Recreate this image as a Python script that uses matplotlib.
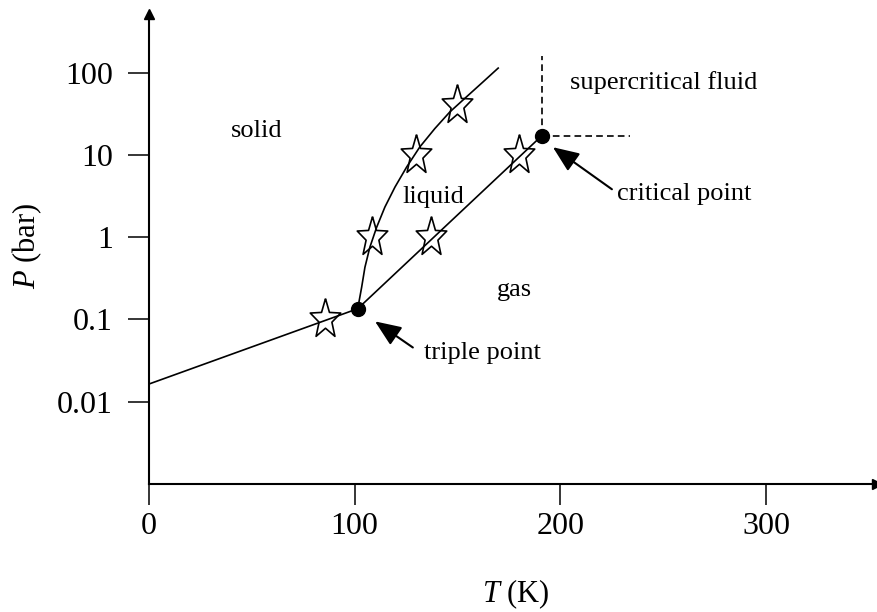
import matplotlib.pyplot as plt
import numpy as np

plt.rcParams['font.family'] = ['Liberation Serif', 'DejaVu Serif']
plt.rcParams['mathtext.fontset'] = 'custom'
plt.rcParams['mathtext.rm'] = 'Liberation Serif'
plt.rcParams['mathtext.it'] = 'Liberation Serif:italic'

# phase boundaries (T in K, P in bar)
subl_T = [0, 101.5]
subl_P = [0.0164, 0.135]
melt_T = [101.5, 103.4, 105.0, 107.4, 110.7, 114.7, 119.6, 125.3, 131.7,
          139.0, 146.3, 154.4, 162.5, 169.8]
melt_P = [0.135, 0.246, 0.431, 0.755, 1.32, 2.32, 4.06, 7.13, 12.5,
          20.9, 33.3, 50.8, 77.4, 113.5]
vap_T = [101.5, 190.9]
vap_P = [0.135, 17]

# measured points (stars)
star_T = [85.5, 108.5, 130, 150, 137, 180]
star_P = [0.1, 1, 10, 40, 1, 10]

triple_T, triple_P = 101.5, 0.135
crit_T, crit_P = 190.9, 17

xticks = [0, 100, 200, 300]
yticks = [0.01, 0.1, 1, 10, 100]
ylabels = ['0.01', '0.1', '1', '10', '100']

fig = plt.figure(figsize=(8.77, 6.12), dpi=100)
ax = fig.add_axes([0.1699, 0.2092, 0.8301, 0.7684])
ax.set_yscale('log')
ax.set_xlim(0, 354)
ax.set_ylim(1e-3, 520)

line = dict(color='k', lw=1.2, solid_joinstyle='round')
ax.plot(subl_T, subl_P, **line)
ax.plot(melt_T, melt_P, **line)
ax.plot(vap_T, vap_P, **line)

# dashed lines out of the critical point
ax.plot([crit_T, crit_T], [crit_P, 157], color='k', lw=1.2, ls=(0, (4, 2.5)))
ax.plot([crit_T, 234], [crit_P, crit_P], color='k', lw=1.2, ls=(0, (4, 2.5)))

# open star, a bit taller than wide like the original
ang = np.pi / 2 + np.arange(11) * np.pi / 5
rad = np.where(np.arange(11) % 2 == 0, 1.0, 0.42)
star = list(zip(rad * np.cos(ang), 1.3 * rad * np.sin(ang)))
ax.plot(star_T, star_P, ls='none', marker=star, ms=30, mfc='none', mec='k', mew=1.2)

ax.plot([triple_T, crit_T], [triple_P, crit_P], 'o', color='k', ms=10)

kw = dict(fontsize=19, va='baseline')
ax.text(52.5, 16.6, 'solid', ha='center', **kw)
ax.text(138.2, 2.6, 'liquid', ha='center', **kw)
ax.text(177.5, 0.195, 'gas', ha='center', **kw)
ax.text(204.9, 63, 'supercritical fluid', ha='left', **kw)
ax.text(133.7, 0.033, 'triple point', ha='left', **kw)
ax.text(227.8, 2.86, 'critical point', ha='left', **kw)

arr = dict(arrowstyle='-|>,head_length=0.8,head_width=0.33', color='k', lw=1.5,
           mutation_scale=20, shrinkA=0, shrinkB=0)
ax.annotate('', xy=(109.9, 0.0947), xytext=(128.3, 0.0456), arrowprops=arr)
ax.annotate('', xy=(196.4, 12.4), xytext=(225.1, 3.82), arrowprops=arr)

for s in ['top', 'right']:
    ax.spines[s].set_visible(False)
for s in ['left', 'bottom']:
    ax.spines[s].set_linewidth(1.5)
ax.plot(1, 0, '>', color='k', ms=7, transform=ax.transAxes, clip_on=False)
ax.plot(0, 1, '^', color='k', ms=7, transform=ax.transAxes, clip_on=False)

ax.set_xticks(xticks)
ax.set_yticks(yticks, labels=ylabels)
ax.yaxis.set_minor_locator(plt.NullLocator())
ax.tick_params(direction='out', length=15, width=1.1, labelsize=23)
ax.tick_params(axis='y', pad=11)
ax.tick_params(axis='x', pad=5)

fig.text(27 / 877, 1 - 246 / 612, '$P$ (bar)', fontsize=22, rotation=90,
         ha='center', va='center')
fig.text(516 / 877, 1 - 594 / 612, '$T$ (K)', fontsize=22, ha='center', va='center')

fig.savefig('out.png', dpi=100)
